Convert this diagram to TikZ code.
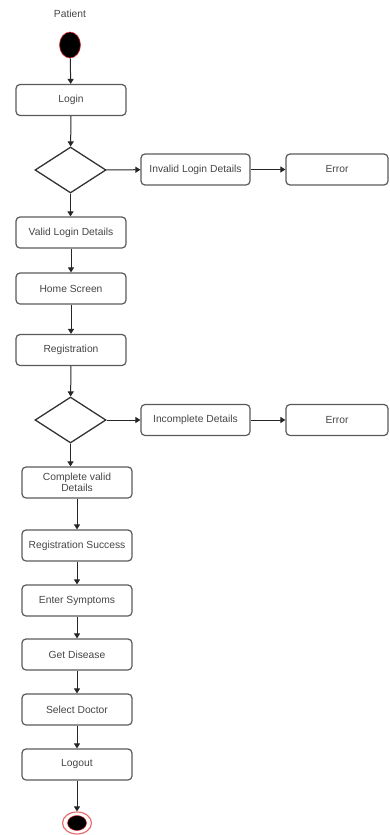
\documentclass[tikz,border=0pt]{standalone}
\usepackage{fontspec}
\setmainfont{Liberation Sans}
\usetikzlibrary{shapes.geometric,arrows.meta}

\definecolor{boxline}{HTML}{5A5A5A}
\definecolor{boxtext}{HTML}{454545}
\definecolor{ringred}{HTML}{E03030}

\tikzset{
  activity/.style={draw=boxline, line width=1.2pt, rounded corners=4pt,
    minimum width=110pt, minimum height=31pt, inner sep=1pt,
    text=boxtext, font=\fontsize{10.3}{11.5}\selectfont, align=center},
  choice/.style={draw=black!80, line width=1.3pt, diamond, aspect=1.54,
    minimum width=71pt, minimum height=46pt, inner sep=0pt},
  flow/.style={draw=black!85, line width=1pt, -{Triangle[length=5pt,width=6pt]}}
}

\begin{document}
\begin{tikzpicture}[x=1pt, y=-1pt]
  \useasboundingbox (0,0) rectangle (390,835);

  \node[text=boxtext, font=\fontsize{10.3}{11.5}\selectfont] (patient) at (70,14) {Patient};
  \node[ellipse, fill=black, draw=ringred, line width=0.6pt, minimum width=21pt,
    minimum height=26pt, inner sep=0pt] (start) at (70,45) {};

  \node[activity] (login) at (71,100) {Login};
  \node[choice] (check) at (70.5,170) {};
  \node[activity, minimum width=109pt] (invalid) at (195.5,169.5) {Invalid Login Details};
  \node[activity, minimum width=102pt] (error) at (337,169.5) {Error};
  \node[activity] (valid) at (71,232.5) {Valid Login Details};
  \node[activity] (home) at (71,288.5) {Home Screen};
  \node[activity] (register) at (71,350) {Registration};
  \node[choice] (verify) at (70.5,420) {};
  \node[activity, minimum width=109pt] (incomplete) at (195.5,420) {Incomplete Details};
  \node[activity, minimum width=102pt] (errortwo) at (337,420) {Error};
  \node[activity] (complete) at (77,482.5) {Complete valid\\Details};
  \node[activity] (success) at (77,545.5) {Registration Success};
  \node[activity] (symptoms) at (77,600.5) {Enter Symptoms};
  \node[activity] (disease) at (77,654.5) {Get Disease};
  \node[activity] (doctor) at (77,709.5) {Select Doctor};
  \node[activity] (logout) at (77,764.5) {Logout};

  \node[ellipse, draw=ringred!70, line width=1.2pt, minimum width=29pt,
    minimum height=22pt, inner sep=0pt] (stop) at (77,823) {};
  \node[ellipse, fill=black, draw=ringred, line width=0.5pt, minimum width=19pt,
    minimum height=15pt, inner sep=0pt] (stopdot) at (stop.center) {};

  % main flow
  \draw[flow] (start) -- (login);
  \draw[flow] (login) -- (check);
  \draw[flow] (check) -- (invalid);
  \draw[flow] (invalid) -- (error);
  \draw[flow] (check.south) -- (check.south |- valid.north);
  \draw[flow] (valid) -- (home);
  \draw[flow] (home) -- (register);
  \draw[flow] (register) -- (verify);
  \draw[flow] (verify) -- (incomplete);
  \draw[flow] (incomplete) -- (errortwo);
  \draw[flow] (verify.south) -- (verify.south |- complete.north);
  \draw[flow] (complete) -- (success);
  \draw[flow] (success) -- (symptoms);
  \draw[flow] (symptoms) -- (disease);
  \draw[flow] (disease) -- (doctor);
  \draw[flow] (doctor) -- (logout);
  \draw[flow] (logout) -- (stop);
\end{tikzpicture}
\end{document}
